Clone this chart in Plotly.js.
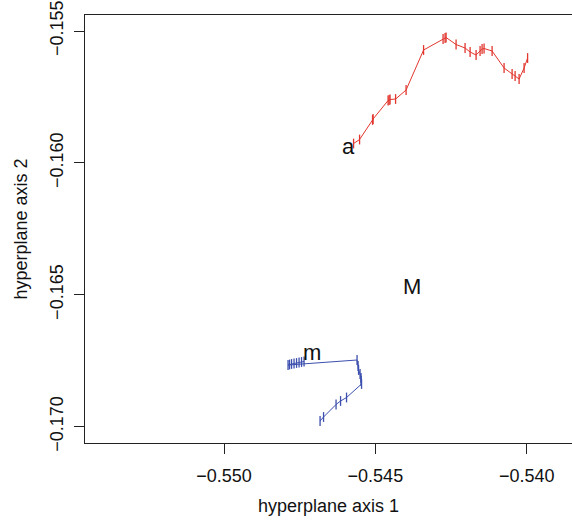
<!DOCTYPE html>
<html>
<head>
<meta charset="utf-8">
<script src="https://cdn.plot.ly/plotly-3.0.1.min.js"></script>
<style>html,body{margin:0;padding:0;overflow:hidden;background:#fff;}</style>
</head>
<body>
<div id="chart" style="width:572px;height:521px;"></div>
<script>
// Series "a" (red trajectory)
var aX = [-0.545720, -0.545522, -0.545093, -0.545076, -0.544580, -0.544547, -0.544514, -0.544332, -0.543985,
          -0.543407, -0.542763, -0.542697, -0.542664, -0.542333, -0.542036, -0.541870, -0.541672, -0.541540,
          -0.541474, -0.541408, -0.541143, -0.540747, -0.540482, -0.540383, -0.540251, -0.540086, -0.539970];
var aY = [-0.159265, -0.159113, -0.158374, -0.158336, -0.157635, -0.157616, -0.157597, -0.157578, -0.157237,
          -0.155720, -0.155303, -0.155265, -0.155246, -0.155512, -0.155644, -0.155796, -0.155910, -0.155758,
          -0.155682, -0.155663, -0.155758, -0.156403, -0.156630, -0.156706, -0.156820, -0.156403, -0.156024];
// Series "m" (blue trajectory)
var mX = [-0.546827, -0.546712, -0.546299, -0.546150, -0.545952, -0.545456, -0.545473, -0.545473, -0.545506,
          -0.545555, -0.545572, -0.545605, -0.547885, -0.547835, -0.547769, -0.547687, -0.547604, -0.547521,
          -0.547439, -0.547356];
var mY = [-0.169784, -0.169632, -0.169158, -0.169026, -0.168893, -0.168381, -0.168268, -0.168154, -0.168002,
          -0.167851, -0.167699, -0.167472, -0.167661, -0.167642, -0.167623, -0.167604, -0.167585, -0.167566,
          -0.167547, -0.167528];
// Text labels
var labelText = ["a", "M", "m"];
var labelX = [-0.545902, -0.543787, -0.547092];
var labelY = [-0.159359, -0.164704, -0.167206];
// Axis ticks
var xTicks = [-0.550, -0.545, -0.540];
var yTicks = [-0.155, -0.160, -0.165, -0.170];

var FONT = "Liberation Sans, Arial, Helvetica, sans-serif";

var traces = [
  {x: aX, y: aY, type: "scatter", mode: "lines+markers", name: "a",
   line: {color: "#E2362E", width: 1},
   marker: {symbol: "line-ns-open", size: 7, line: {color: "rgba(226,54,46,0.65)", width: 1.3}}},
  {x: mX, y: mY, type: "scatter", mode: "lines+markers", name: "m",
   line: {color: "#3C4FAE", width: 1},
   marker: {symbol: "line-ns-open", size: 7, line: {color: "rgba(60,79,174,0.75)", width: 1.3}}}
];

var annotations = labelText.map(function (t, i) {
  return {x: labelX[i], y: labelY[i], xref: "x", yref: "y", text: t, showarrow: false,
          font: {family: FONT, size: 22, color: "#111"}, xanchor: "center", yanchor: "middle"};
});

var layout = {
  width: 572, height: 521,
  margin: {l: 85, r: 0, t: 15, b: 78},
  paper_bgcolor: "#fff", plot_bgcolor: "#fff",
  showlegend: false,
  font: {family: FONT, size: 18, color: "#111"},
  xaxis: {
    range: [-0.554594, -0.538503], tickvals: xTicks, tickformat: ".3f",
    showgrid: false, zeroline: false, showline: true, linecolor: "#222", linewidth: 1, mirror: true,
    ticks: "outside", ticklen: 10, tickcolor: "#222", tickwidth: 1,
    tickfont: {family: FONT, size: 18, color: "#111"}, ticklabelstandoff: 6,
    title: {text: "hyperplane axis 1", font: {family: FONT, size: 18, color: "#111"}, standoff: 14}
  },
  yaxis: {
    range: [-0.170618, -0.154393], tickvals: yTicks, tickformat: ".3f",
    showgrid: false, zeroline: false, showline: true, linecolor: "#222", linewidth: 1, mirror: false,
    ticks: "outside", ticklen: 10, tickcolor: "#222", tickwidth: 1, tickangle: -90,
    tickfont: {family: FONT, size: 18, color: "#111"}, ticklabelstandoff: 4,
    title: {text: "hyperplane axis 2", font: {family: FONT, size: 18, color: "#111"}, standoff: 14}
  },
  annotations: annotations
};

Plotly.newPlot("chart", traces, layout, {displayModeBar: false, staticPlot: true});
</script>
</body>
</html>
